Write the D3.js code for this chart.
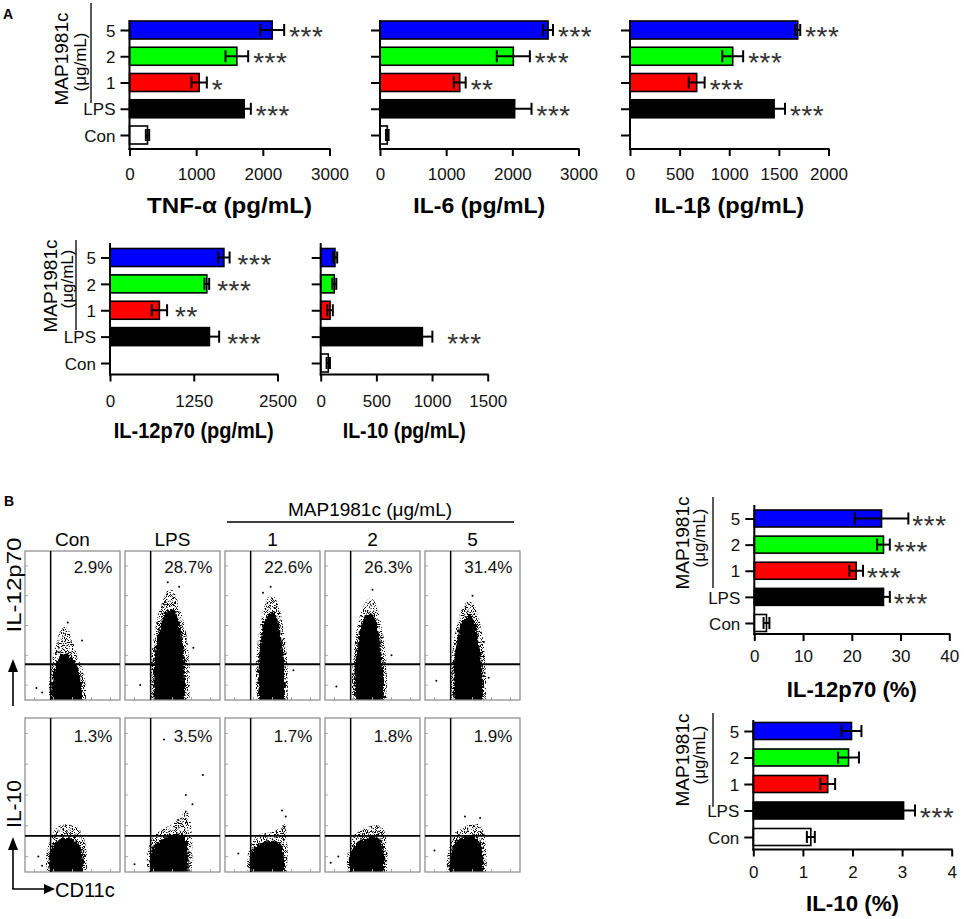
<!DOCTYPE html>
<html><head><meta charset="utf-8">
<script src="https://cdn.jsdelivr.net/npm/d3@7"></script>
<style>
body{margin:0;background:#fff}
svg{display:block}
text{font-family:"Liberation Sans",Arial,sans-serif}
</style>
</head><body>
<svg id="c" width="964" height="919"></svg>
<script>
// ---------------- DATA ----------------
const categories = ["5", "2", "1", "LPS", "Con"];
const barColors = ["#0000ff", "#00ff00", "#ff0000", "#000000", "#ffffff"];

const tnfValues = [2140, 1610, 1045, 1720, 270];
const tnfErrors = [180, 170, 115, 100, 25];
const tnfStars = ["***", "***", "*", "***", ""];
const tnfTicks = [0, 1000, 2000, 3000];

const il6Values = [2540, 2015, 1205, 2035, 110];
const il6Errors = [75, 250, 90, 255, 20];
const il6Stars = ["***", "***", "**", "***", ""];
const il6Ticks = [0, 1000, 2000, 3000];

const il1bValues = [1690, 1035, 672, 1452, 0];
const il1bErrors = [25, 105, 80, 110, 0];
const il1bStars = ["***", "***", "***", "***", ""];
const il1bTicks = [0, 500, 1000, 1500, 2000];

const il12pgValues = [1700, 1445, 737, 1484, 0];
const il12pgErrors = [85, 35, 115, 145, 0];
const il12pgStars = ["***", "***", "**", "***", ""];
const il12pgTicks = [0, 1250, 2500];

const il10pgValues = [128, 122, 84, 913, 68];
const il10pgErrors = [20, 18, 25, 90, 15];
const il10pgStars = ["", "", "", "***", ""];
const il10pgTicks = [0, 500, 1000, 1500];

const il12pctValues = [26.1, 26.5, 20.9, 26.5, 2.5];
const il12pctErrors = [5.5, 1.3, 1.4, 1.3, 0.6];
const il12pctStars = ["***", "***", "***", "***", ""];
const il12pctTicks = [0, 10, 20, 30, 40];

const il10pctValues = [1.98, 1.92, 1.50, 3.03, 1.16];
const il10pctErrors = [0.2, 0.21, 0.15, 0.23, 0.08];
const il10pctStars = ["", "", "", "***", ""];
const il10pctTicks = [0, 1, 2, 3, 4];

// flow cytometry panels (outlines, in % of plot width / height)
const flowColumns = ["Con", "LPS", "1", "2", "5"];
const il12FlowLabels = ["2.9%", "28.7%", "22.6%", "26.3%", "31.4%"];
const il10FlowLabels = ["1.3%", "3.5%", "1.7%", "1.8%", "1.9%"];

const il12CloudOuter = [
  [[26,0],[25,8],[26,18],[29,28],[33,38],[37,46],[42,49],[47,46],[51,38],[56,28],[61,20],[64,10],[64,0]],
  [[27,0],[26,12],[27,26],[30,40],[33,52],[37,62],[42,70],[47,75],[52,72],[57,63],[62,52],[66,38],[68,22],[68,0]],
  [[33,0],[32,14],[33,28],[35,42],[38,54],[42,64],[47,70],[52,69],[57,62],[61,50],[64,36],[66,20],[66,0]],
  [[29,0],[28,14],[30,28],[32,42],[35,52],[40,62],[46,68],[51,67],[56,60],[60,48],[63,36],[65,20],[65,0]],
  [[28,0],[27,14],[28,28],[31,42],[34,52],[39,61],[45,66],[50,65],[55,59],[59,48],[62,36],[64,20],[64,0]]
];
const il12CloudCore = [
  [[28,0],[28,8],[30,18],[34,26],[40,31],[47,30],[54,24],[59,14],[60,0]],
  [[30,0],[30,14],[31,28],[34,42],[38,52],[43,59],[50,61],[55,56],[59,46],[62,30],[63,14],[63,0]],
  [[36,0],[35,14],[36,28],[38,42],[41,52],[46,58],[51,59],[56,53],[59,42],[62,28],[63,12],[63,0]],
  [[32,0],[31,14],[32,28],[35,40],[38,50],[43,56],[49,58],[54,52],[57,42],[60,28],[62,12],[62,0]],
  [[31,0],[30,14],[31,28],[34,40],[37,49],[42,55],[48,57],[53,51],[56,41],[59,28],[61,12],[61,0]]
];
const il12Strays = [
  [[12,8],[18,5],[45,52],[60,40]],
  [[45,79],[57,76],[72,35],[16,10]],
  [[48,76],[40,72],[72,20]],
  [[12,9],[50,74],[70,30]],
  [[12,13],[62,39],[67,15],[50,70]]
];
const il10CloudOuter = [
  [[23,0],[22,8],[24,16],[28,24],[34,29],[42,31],[50,30],[57,28],[62,22],[65,12],[65,0]],
  [[24,0],[23,8],[25,16],[31,24],[40,28],[50,31],[58,35],[64,40],[68,36],[70,26],[71,12],[70,0]],
  [[24,0],[23,8],[26,16],[31,22],[40,25],[50,26],[58,29],[63,31],[65,24],[66,12],[65,0]],
  [[24,0],[23,8],[26,17],[31,24],[40,28],[50,30],[57,30],[62,27],[65,18],[66,8],[65,0]],
  [[23,0],[23,8],[26,17],[31,25],[40,29],[50,31],[57,31],[62,26],[64,16],[65,6],[64,0]]
];
const il10CloudCore = [
  [[26,0],[25,8],[28,15],[33,20],[42,22],[51,21],[58,16],[61,8],[61,0]],
  [[27,0],[26,8],[29,15],[36,20],[46,23],[56,25],[62,24],[66,16],[67,6],[67,0]],
  [[27,0],[26,8],[29,14],[35,18],[44,20],[54,20],[59,18],[62,10],[62,0]],
  [[27,0],[26,8],[29,15],[35,20],[44,22],[53,23],[59,20],[62,12],[62,0]],
  [[26,0],[26,8],[29,15],[34,21],[44,23],[52,23],[58,19],[61,11],[61,0]]
];
const il10Strays = [
  [[14,10],[18,4]],
  [[41,86],[82,63],[64,50],[71,44],[56,34],[10,5]],
  [[14,12],[64,36],[60,40]],
  [[6,6],[14,10]],
  [[10,14],[42,36],[58,35]]
];
const gateX = 27;

// ---------------- DRAW ----------------
const svg = d3.select("#c");
const defs = svg.append("defs");

// speckle texture and rough edges for the dot clouds (pure styling)
const fs = defs.append("filter").attr("id", "fSparse").attr("x", "-20%").attr("y", "-20%")
  .attr("width", "140%").attr("height", "140%").attr("color-interpolation-filters", "sRGB");
fs.append("feTurbulence").attr("type", "fractalNoise").attr("baseFrequency", 1.1)
  .attr("numOctaves", 1).attr("seed", 7).attr("result", "n");
fs.append("feColorMatrix").attr("in", "n").attr("type", "matrix")
  .attr("values", "0 0 0 0 0  0 0 0 0 0  0 0 0 0 0  14 0 0 0 -7.3").attr("result", "m");
fs.append("feComposite").attr("in", "SourceGraphic").attr("in2", "m").attr("operator", "in");

const fr = defs.append("filter").attr("id", "fRough").attr("x", "-20%").attr("y", "-20%")
  .attr("width", "140%").attr("height", "140%");
fr.append("feTurbulence").attr("type", "fractalNoise").attr("baseFrequency", 0.45)
  .attr("numOctaves", 2).attr("seed", 3).attr("result", "t");
fr.append("feDisplacementMap").attr("in", "SourceGraphic").attr("in2", "t").attr("scale", 6)
  .attr("xChannelSelector", "R").attr("yChannelSelector", "G");

function groupLabel(o) {
  const g = svg.append("g");
  g.append("text").attr("transform", `translate(${o.mapX},${o.mapY}) rotate(-90)`)
    .attr("text-anchor", "middle").attr("font-size", 19).text("MAP1981c");
  g.append("text").attr("transform", `translate(${o.unitX},${o.unitY}) rotate(-90)`)
    .attr("text-anchor", "middle").attr("font-size", 17).text("(μg/mL)");
  g.append("line").attr("x1", o.lineX).attr("x2", o.lineX).attr("y1", o.ly0).attr("y2", o.ly1)
    .attr("stroke", "#000").attr("stroke-width", 1.3);
}

function barPanel(o) {
  const g = svg.append("g");
  const x = d3.scaleLinear().domain([0, o.ticks[o.ticks.length - 1]]).range([o.x0, o.x1]);
  const y = d3.scalePoint().domain(categories).range([o.c0, o.c1]);
  const bh = o.bh || 18;
  const rows = o.values.map((v, i) => ({ v, e: o.errors[i], c: categories[i], s: o.stars[i], col: barColors[i] }));

  g.selectAll("rect.bar").data(rows).join("rect").attr("class", "bar")
    .attr("x", x(0)).attr("y", d => y(d.c) - bh / 2)
    .attr("width", d => x(d.v) - x(0)).attr("height", bh)
    .attr("fill", d => d.col).attr("stroke", "#000").attr("stroke-width", 1.6);

  const eb = g.selectAll("g.eb").data(rows.filter(d => d.e > 0)).join("g").attr("class", "eb")
    .attr("stroke", "#000").attr("stroke-width", 2);
  eb.append("line").attr("x1", d => x(d.v - d.e)).attr("x2", d => x(d.v + d.e))
    .attr("y1", d => y(d.c)).attr("y2", d => y(d.c));
  eb.append("line").attr("x1", d => x(d.v + d.e)).attr("x2", d => x(d.v + d.e))
    .attr("y1", d => y(d.c) - 6).attr("y2", d => y(d.c) + 6);
  eb.append("line").attr("x1", d => x(d.v - d.e)).attr("x2", d => x(d.v - d.e))
    .attr("y1", d => y(d.c) - 6).attr("y2", d => y(d.c) + 6);

  g.selectAll("text.star").data(rows.filter(d => d.s)).join("text").attr("class", "star")
    .attr("x", d => x(d.v + d.e) + o.starGap).attr("y", d => y(d.c) + 16)
    .attr("font-size", 28).attr("fill", "#333").attr("letter-spacing", 0.5).text(d => d.s);

  // x axis
  const gx = g.append("g").attr("transform", `translate(0,${o.yBottom})`)
    .call(d3.axisBottom(x).tickValues(o.ticks).tickSize(7).tickSizeOuter(0).tickFormat(d3.format("d")));
  gx.select(".domain").remove();
  gx.selectAll(".tick line").attr("stroke-width", 2);
  gx.selectAll(".tick text").attr("y", o.tickOffset).attr("dy", 0)
    .attr("font-size", 17).attr("font-family", '"Liberation Sans",Arial,sans-serif').attr("fill", "#111");
  g.append("line").attr("x1", o.x0 - 1).attr("x2", o.x1 + 1).attr("y1", o.yBottom).attr("y2", o.yBottom)
    .attr("stroke", "#000").attr("stroke-width", 2);

  // y axis
  const gy = g.append("g").attr("transform", `translate(${o.x0},0)`)
    .call(d3.axisLeft(y).tickSize(9).tickPadding(5).tickFormat(d => o.showLabels ? d : ""));
  gy.select(".domain").remove();
  gy.selectAll(".tick line").attr("stroke-width", 2);
  gy.selectAll(".tick text").attr("font-size", 17).attr("dy", "0.36em")
    .attr("font-family", '"Liberation Sans",Arial,sans-serif').attr("fill", "#111");
  g.append("line").attr("x1", o.x0).attr("x2", o.x0).attr("y1", o.yTop).attr("y2", o.yBottom + 1)
    .attr("stroke", "#000").attr("stroke-width", 2);

  // title
  g.append("text").attr("x", (o.x0 + o.x1) / 2).attr("y", o.titleY).attr("text-anchor", "middle")
    .attr("font-size", 22).attr("font-weight", "bold")
    .attr("textLength", o.titleLen).attr("lengthAdjust", "spacingAndGlyphs").text(o.title);
}

// panel letters
svg.append("text").attr("x", 3).attr("y", 19).attr("font-size", 14).attr("font-weight", "bold").text("A");
svg.append("text").attr("x", 4).attr("y", 506).attr("font-size", 14).attr("font-weight", "bold").text("B");

// Row A1
const rowA1 = { yTop: 20, yBottom: 149, c0: 30, c1: 135, tickOffset: 31, titleY: 213, starGap: 5 };
barPanel({ ...rowA1, values: tnfValues, errors: tnfErrors, stars: tnfStars, ticks: tnfTicks,
  x0: 129.5, x1: 329.5, showLabels: true, title: "TNF-α (pg/mL)", titleLen: 165 });
barPanel({ ...rowA1, values: il6Values, errors: il6Errors, stars: il6Stars, ticks: il6Ticks,
  x0: 380, x1: 578.5, showLabels: false, title: "IL-6 (pg/mL)", titleLen: 132 });
barPanel({ ...rowA1, values: il1bValues, errors: il1bErrors, stars: il1bStars, ticks: il1bTicks,
  x0: 630, x1: 828.5, showLabels: false, title: "IL-1β (pg/mL)", titleLen: 150 });
groupLabel({ mapX: 68, mapY: 59, unitX: 86, unitY: 62, lineX: 91, ly0: 3, ly1: 103 });

// Row A2
const rowA2 = { yTop: 243, yBottom: 374.5, c0: 257.5, c1: 363, tickOffset: 32, titleY: 438 };
barPanel({ ...rowA2, values: il12pgValues, errors: il12pgErrors, stars: il12pgStars, ticks: il12pgTicks,
  x0: 110, x1: 277.5, showLabels: true, title: "IL-12p70 (pg/mL)", titleLen: 160, starGap: 8 });
barPanel({ ...rowA2, values: il10pgValues, errors: il10pgErrors, stars: il10pgStars, ticks: il10pgTicks,
  x0: 320.7, x1: 487.7, showLabels: false, title: "IL-10 (pg/mL)", titleLen: 123, starGap: 15 });
groupLabel({ mapX: 57, mapY: 286, unitX: 73, unitY: 279, lineX: 76, ly0: 240, ly1: 330 });

// Right B panels
barPanel({ yTop: 505, yBottom: 634, c0: 518.5, c1: 623, tickOffset: 27.7, titleY: 697, starGap: 4, bh: 17,
  values: il12pctValues, errors: il12pctErrors, stars: il12pctStars, ticks: il12pctTicks,
  x0: 754.3, x1: 949.3, showLabels: true, title: "IL-12p70 (%)", titleLen: 130 });
groupLabel({ mapX: 689, mapY: 543, unitX: 705, unitY: 538, lineX: 713, ly0: 497, ly1: 588 });
barPanel({ yTop: 720, yBottom: 849.5, c0: 731, c1: 837, tickOffset: 28.5, titleY: 911, starGap: 5, bh: 17,
  values: il10pctValues, errors: il10pctErrors, stars: il10pctStars, ticks: il10pctTicks,
  x0: 753.3, x1: 951.7, showLabels: true, title: "IL-10 (%)", titleLen: 93 });
groupLabel({ mapX: 689, mapY: 760, unitX: 705, unitY: 755, lineX: 713, ly0: 713, ly1: 807 });

// ---------------- FLOW CYTOMETRY ----------------
const colBand = d3.scaleBand().domain(flowColumns).range([25, 520]).paddingInner(0.05);
const cloudLine = d3.line().curve(d3.curveCatmullRomClosed.alpha(0.5));
// close each outline well below the plot floor so the clip gives a flat base
const closeBelow = pts => [[pts[0][0], -12], ...pts, [pts[pts.length - 1][0], -12]];

function flowRow(o) {
  flowColumns.forEach((col, i) => {
    const g = svg.append("g");
    const left = colBand(col), w = colBand.bandwidth();
    const x = d3.scaleLinear().domain([0, 100]).range([left, left + w]);
    const y = d3.scaleLinear().domain([0, 100]).range([o.bottom, o.top]);
    const cid = `clip-${o.id}-${i}`;
    defs.append("clipPath").attr("id", cid).append("rect")
      .attr("x", left).attr("y", o.top).attr("width", w).attr("height", o.bottom - o.top);
    const inner = g.append("g").attr("clip-path", `url(#${cid})`);
    cloudLine.x(d => x(d[0])).y(d => y(d[1]));
    inner.append("path").attr("d", cloudLine(closeBelow(o.outer[i]))).attr("fill", "#000")
      .attr("filter", "url(#fSparse)");
    inner.append("path").attr("d", cloudLine(closeBelow(o.core[i]))).attr("fill", "#000")
      .attr("filter", "url(#fRough)");
    inner.selectAll("circle").data(o.strays[i]).join("circle")
      .attr("cx", d => x(d[0])).attr("cy", d => y(d[1])).attr("r", 1).attr("fill", "#000");
    // faint axis ticks on the frame
    const tk = g.append("g").attr("stroke", "#aaa").attr("stroke-width", 1);
    [0, 20, 40, 60, 80].forEach(t => {
      tk.append("line").attr("x1", left).attr("x2", left + 3).attr("y1", y(t + 10)).attr("y2", y(t + 10));
      tk.append("line").attr("x1", x(t + 10)).attr("x2", x(t + 10)).attr("y1", o.bottom).attr("y2", o.bottom - 3);
    });
    g.append("rect").attr("x", left).attr("y", o.top).attr("width", w).attr("height", o.bottom - o.top)
      .attr("fill", "none").attr("stroke", "#888").attr("stroke-width", 1.2);
    g.append("line").attr("x1", x(gateX)).attr("x2", x(gateX)).attr("y1", o.top).attr("y2", o.bottom)
      .attr("stroke", "#000").attr("stroke-width", 1.5);
    g.append("line").attr("x1", left).attr("x2", left + w).attr("y1", y(o.gateY)).attr("y2", y(o.gateY))
      .attr("stroke", "#000").attr("stroke-width", 1.8);
    g.append("text").attr("x", x(92)).attr("y", y(o.labelY)).attr("text-anchor", "end")
      .attr("font-size", 17).attr("fill", "#111").text(o.labels[i]);
  });
}

flowRow({ id: "il12", top: 551, bottom: 700, gateY: 24, labelY: 85,
  outer: il12CloudOuter, core: il12CloudCore, strays: il12Strays, labels: il12FlowLabels });
flowRow({ id: "il10", top: 718, bottom: 872, gateY: 23.5, labelY: 84.5,
  outer: il10CloudOuter, core: il10CloudCore, strays: il10Strays, labels: il10FlowLabels });

// column headers
svg.append("g").selectAll("text").data(flowColumns).join("text")
  .attr("x", d => colBand(d) + colBand.bandwidth() / 2).attr("y", 546)
  .attr("text-anchor", "middle").attr("font-size", 19).text(d => d);
svg.append("text").attr("x", 370).attr("y", 516).attr("text-anchor", "middle").attr("font-size", 19)
  .text("MAP1981c (μg/mL)");
svg.append("line").attr("x1", colBand("1") + 2).attr("x2", colBand("5") + colBand.bandwidth() - 6)
  .attr("y1", 522).attr("y2", 522).attr("stroke", "#000").attr("stroke-width", 1.3);

// flow axis labels and arrows
svg.append("text").attr("transform", "translate(21,585) rotate(-90)").attr("text-anchor", "middle")
  .attr("font-size", 21).attr("textLength", 95).attr("lengthAdjust", "spacingAndGlyphs").text("IL-12p70");
svg.append("text").attr("transform", "translate(21,804) rotate(-90)").attr("text-anchor", "middle")
  .attr("font-size", 21).text("IL-10");
const arr = svg.append("g").attr("stroke", "#000").attr("stroke-width", 1.6);
arr.append("line").attr("x1", 13).attr("x2", 13).attr("y1", 706).attr("y2", 670);
arr.append("line").attr("x1", 13).attr("x2", 13).attr("y1", 889).attr("y2", 848);
arr.append("line").attr("x1", 12.2).attr("x2", 46).attr("y1", 889).attr("y2", 889);
svg.append("path").attr("d", "M13,659 L8,672 L18,672 Z").attr("fill", "#000");
svg.append("path").attr("d", "M13,837 L8,850 L18,850 Z").attr("fill", "#000");
svg.append("path").attr("d", "M55,889 L44,884 L44,894 Z").attr("fill", "#000");
svg.append("text").attr("x", 55).attr("y", 897).attr("font-size", 20).text("CD11c");
</script>
</body></html>
